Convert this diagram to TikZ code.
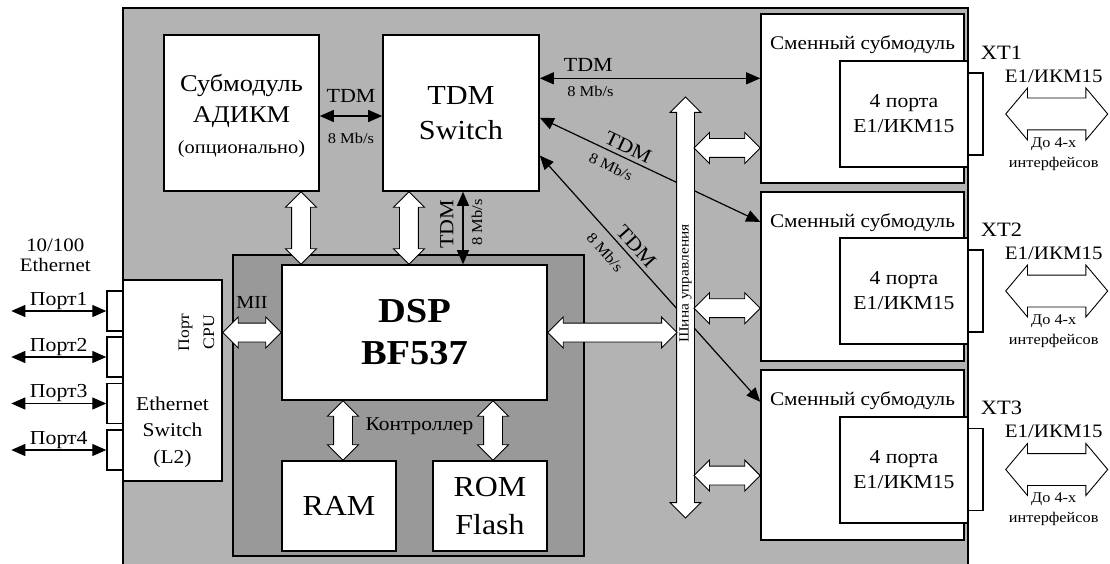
\documentclass[tikz,border=0pt]{standalone}
\usepackage{fontspec}
\setmainfont[FakeStretch=1.1]{Liberation Serif}
\usetikzlibrary{positioning,arrows.meta,shapes.arrows,calc}
\definecolor{boardgray}{RGB}{179,179,179}
\definecolor{dspgray}{RGB}{153,153,153}

\newcommand{\fsz}[2]{\fontsize{#1}{#2}\selectfont}
% white double arrow between two points
\newcommand{\hollowarr}[3][]{%
  \path let \p1=#2, \p2=#3, \n1={veclen(\x2-\x1,\y2-\y1)}, \n2={atan2(\y2-\y1,\x2-\x1)} in
    node[hollow, minimum height=\n1, rotate=\n2, #1] at ($(\p1)!0.5!(\p2)$) {};}

\begin{document}
\begin{tikzpicture}[x=1pt, y=-1pt,
    box/.style={rectangle, draw, fill=white, line width=1.6pt, inner sep=0pt, align=center},
    port/.style={rectangle, draw, fill=white, line width=1.4pt, minimum width=16pt, minimum height=40pt},
    tdm/.style={<->, >={Triangle[length=14pt, width=12pt]}, line width=1.2pt},
    hollow/.style={double arrow, draw, fill=white, line width=0.9pt, inner sep=0pt, inner ysep=9pt, double arrow head extend=6pt, double arrow tip angle=90},
    bigarrow/.style={hollow, inner ysep=15.5pt, double arrow head extend=10pt, double arrow tip angle=100},
    lab/.style={inner sep=1pt, align=center},
    tdmlab/.style={inner sep=1pt, font=\fsz{20}{22}},
    rate/.style={inner sep=1pt, font=\fsz{15}{18}}
  ]
  \useasboundingbox (0,0) rectangle (1110,564);

  \node[box, fill=boardgray, minimum width=845pt, minimum height=560pt] (board) at (545.5,288) {};
  \node[box, fill=dspgray, minimum width=351pt, minimum height=301pt] (dsparea) at (408.5,405.5) {};

  \node[box, minimum width=155pt, minimum height=156pt] (adpcm) at (241.5,113) {};
  \node[lab, font=\fsz{24}{31}] (adpcmt) at ($(adpcm.center)+(0,3)$) {Субмодуль\\АДИКМ\\{\fsz{18.5}{31}(опционально)}};
  \node[box, minimum width=156pt, minimum height=156pt, font=\fsz{27.5}{35}] (tdmsw) at (461,113) {TDM\\Switch};
  \node[box, minimum width=265pt, minimum height=135pt, font=\bfseries\fsz{35}{42}] (dsp) at (414.5,332.5) {DSP\\BF537};
  \node[box, minimum width=114pt, minimum height=90pt, font=\fsz{29}{38}] (ram) at (339,506) {RAM};
  \node[box, minimum width=114pt, minimum height=90pt, font=\fsz{29}{38}] (rom) at (490,506) {ROM\\Flash};
  \node[lab, font=\fsz{19.5}{22}] (ctrl) at ($(dsp.south)+(5,25)$) {Контроллер};

  % ethernet side
  \node[box, minimum width=99pt, minimum height=201pt] (ethsw) at (172.5,380.5) {};
  \node[lab, font=\fsz{19.5}{26.5}] (ethswt) at ($(ethsw.center)+(0,51.5)$) {Ethernet\\Switch\\(L2)};
  \node[lab, rotate=90, font=\fsz{16}{25}] (cpu) at ($(ethsw.north)+(24,53)$) {Порт\\CPU};
  \node[port] (p1) at (115,311) {};
  \node[port] (p2) at (115,357) {};
  \node[port] (p3) at (115,403.5) {};
  \node[port] (p4) at (115,450) {};
  \node[lab, font=\fsz{19}{19.5}] (eth) at ($(p1.north west)+(-51,-35)$) {10/100\\Ethernet};

  % submodules
  \node[box, minimum width=203pt, minimum height=169pt] (sub1) at (862.5,98.5) {};
  \node[box, minimum width=203pt, minimum height=169pt] (sub2) at (862.5,276.5) {};
  \node[box, minimum width=203pt, minimum height=170pt] (sub3) at (862.5,455) {};
  \node[lab, font=\fsz{19.3}{24}] (sub1t) at ($(sub1.north)+(0,31)$) {Сменный субмодуль};
  \node[lab, font=\fsz{19.3}{24}] (sub2t) at ($(sub2.north)+(0,31)$) {Сменный субмодуль};
  \node[lab, font=\fsz{19.3}{24}] (sub3t) at ($(sub3.north)+(0,31)$) {Сменный субмодуль};
  \node[box, minimum width=128pt, minimum height=106pt, font=\fsz{19.7}{25}] (e1a) at (904,114) {4 порта\\E1/ИКМ15};
  \node[box, minimum width=128pt, minimum height=106pt, font=\fsz{19.7}{25}] (e1b) at (904,291) {4 порта\\E1/ИКМ15};
  \node[box, minimum width=128pt, minimum height=106pt, font=\fsz{19.7}{25}] (e1c) at (904,470) {4 порта\\E1/ИКМ15};
  \node[port, minimum width=15pt, minimum height=82pt] (xt1) at (975.5,114) {};
  \node[port, minimum width=15pt, minimum height=82pt] (xt2) at (975.5,291) {};
  \node[port, minimum width=15pt, minimum height=82pt] (xt3) at (975.5,469.5) {};
  \node[lab, font=\fsz{20.4}{24}] (xt1l) at ($(xt1.north)+(26,-20)$) {XT1};
  \node[lab, font=\fsz{20.4}{24}] (xt2l) at ($(xt2.north)+(26,-20)$) {XT2};
  \node[lab, font=\fsz{20.4}{24}] (xt3l) at ($(xt3.north)+(26,-20)$) {XT3};
  \node[lab, font=\fsz{19}{24}] (out1) at ($(xt1.east)+(70,-38)$) {E1/ИКМ15};
  \node[lab, font=\fsz{19}{24}] (out2) at ($(xt2.east)+(70,-38)$) {E1/ИКМ15};
  \node[lab, font=\fsz{19}{24}] (out3) at ($(xt3.east)+(70,-38)$) {E1/ИКМ15};
  \node[lab, font=\fsz{14.8}{20}] (cnt1) at ($(xt1.east)+(70,40)$) {До 4-х\\интерфейсов};
  \node[lab, font=\fsz{14.8}{20}] (cnt2) at ($(xt2.east)+(70,40)$) {До 4-х\\интерфейсов};
  \node[lab, font=\fsz{14.8}{20}] (cnt3) at ($(xt3.east)+(70,40)$) {До 4-х\\интерфейсов};

  % TDM links
  \draw[tdm] ($(adpcm.east)+(0,3)$) -- ($(tdmsw.west)+(0,3)$)
    node[tdmlab, midway, above=12pt] (l1) {TDM} node[rate, midway, below=15pt] (r1) {8 Mb/s};
  \coordinate (t0) at ($(tdmsw.north east)!0.28!(tdmsw.south east)$);
  \draw[tdm] (t0) -- (t0 -| sub1.west)
    node[tdmlab, pos=0.22, above=5pt] (l2) {TDM} node[rate, pos=0.23, below=6pt] (r2) {8 Mb/s};
  \draw[tdm] ($(tdmsw.north east)!0.53!(tdmsw.south east)$) -- ($(sub2.north west)!0.18!(sub2.south west)$)
    node[tdmlab, sloped, pos=0.38, above=3pt] (l3) {TDM} node[rate, sloped, pos=0.35, below=7pt] (r3) {8 Mb/s};
  \draw[tdm] ($(tdmsw.north east)!0.77!(tdmsw.south east)$) -- ($(sub3.north west)!0.19!(sub3.south west)$)
    node[tdmlab, sloped, pos=0.40, above=3pt] (l4) {TDM} node[rate, sloped, pos=0.35, below=9pt] (r4) {8 Mb/s};
  \coordinate (t3) at ($(tdmsw.south)+(2,0)$);
  \draw[tdm] (t3 |- dsp.north) -- (t3)
    node[tdmlab, sloped, pos=0.55, above=8pt] (l5) {TDM} node[rate, sloped, pos=0.58, below=7pt] (r5) {8 Mb/s};

  % ethernet ports
  \draw[tdm] ($(p1.west)+(-95,0)$) -- (p1.west) node[lab, midway, above, font=\fsz{19.8}{22}] (p1l) {Порт1};
  \draw[tdm] ($(p2.west)+(-95,0)$) -- (p2.west) node[lab, midway, above, font=\fsz{19.8}{22}] (p2l) {Порт2};
  \draw[tdm] ($(p3.west)+(-95,0)$) -- (p3.west) node[lab, midway, above, font=\fsz{19.8}{22}] (p3l) {Порт3};
  \draw[tdm] ($(p4.west)+(-95,0)$) -- (p4.west) node[lab, midway, above, font=\fsz{19.8}{22}] (p4l) {Порт4};

  % control bus
  \node[hollow, rotate=90, minimum height=421pt, inner ysep=8.5pt, double arrow head extend=6.5pt] (bus) at (685.5,307.5) {};
  \node[lab, rotate=90, font=\fsz{14}{18}] (bust) at ($(bus.center)+(0,-24)$) {Шина управления};
  \coordinate (busl) at ($(bus.center)+(-8.5,0)$);
  \coordinate (busr) at ($(bus.center)+(8.5,0)$);

  % white data paths
  \coordinate (h1) at ($(adpcm.south west)!0.88!(adpcm.south east)$);
  \hollowarr{(h1)}{(h1 |- dsp.north)}
  \coordinate (h2) at ($(tdmsw.south west)!0.17!(tdmsw.south east)$);
  \hollowarr{(h2)}{(h2 |- dsp.north)}
  \hollowarr{(dsp.west -| ethsw.east)}{(dsp.west)}
  \node[lab, font=\fsz{18.4}{22}] (mii) at ($(ethsw.east |- dsp.west)!0.5!(dsp.west)+(0,-30)$) {MII};
  \hollowarr{(dsp.east)}{(dsp.east -| busl)}
  \coordinate (h3) at ($(ram.north)+(4,0)$);
  \hollowarr{(h3 |- dsp.south)}{(h3)}
  \coordinate (h4) at ($(rom.north)+(3,0)$);
  \hollowarr{(h4 |- dsp.south)}{(h4)}
  \coordinate (b1) at ($(sub1.north west)!0.79!(sub1.south west)$);
  \hollowarr{(b1 -| busr)}{(b1)}
  \coordinate (b2) at ($(sub2.north west)!0.686!(sub2.south west)$);
  \hollowarr{(b2 -| busr)}{(b2)}
  \coordinate (b3) at ($(sub3.north west)!0.62!(sub3.south west)$);
  \hollowarr{(b3 -| busr)}{(b3)}
  \hollowarr[bigarrow]{($(xt1.east)+(22,0)$)}{($(xt1.east)+(124,0)$)}
  \hollowarr[bigarrow]{($(xt2.east)+(22,0)$)}{($(xt2.east)+(124,0)$)}
  \hollowarr[bigarrow]{($(xt3.east)+(22,0)$)}{($(xt3.east)+(124,0)$)}
\end{tikzpicture}
\end{document}
